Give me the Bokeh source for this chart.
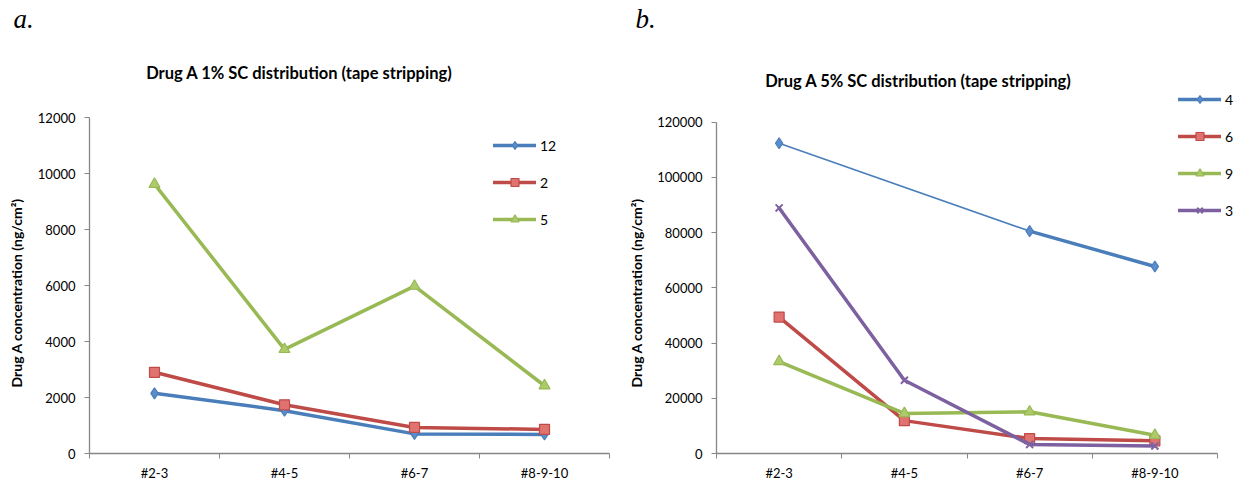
import numpy as np
from bokeh.plotting import figure
from bokeh.models import (FixedTicker, Legend, LegendItem, Label, Range1d, Title,
                          ColumnDataSource, NumeralTickFormatter)
from bokeh.layouts import row
from bokeh.embed import file_html
from bokeh.resources import INLINE

# ---------------- data ----------------
categories = ["#2-3", "#4-5", "#6-7", "#8-9-10"]

a_title = "Drug A 1% SC distribution (tape stripping)"
a_names = ["12", "2", "5"]
a_12 = [2150, 1530, 700, 680]
a_2 = [2900, 1740, 930, 860]
a_5 = [9620, 3720, 5980, 2420]
a_yticks = [0, 2000, 4000, 6000, 8000, 10000, 12000]

b_title = "Drug A 5% SC distribution (tape stripping)"
b_names = ["4", "6", "9", "3"]
b_4 = [112300, None, 80500, 67700]
b_6 = [49400, 11900, 5400, 4600]
b_9 = [33300, 14500, 15100, 6600]
b_3 = [88900, 26500, 3300, 2700]
b_yticks = [0, 20000, 40000, 60000, 80000, 100000, 120000]

y_label = "Drug A concentration (ng/cm\u00b2)"

# ---------------- styles / layout ----------------
FONT = "Lato"
AXIS_GRAY = "#868686"
STY = {
    "blue": dict(line="#4A7EBB", marker="diamond", size=11, fill="#5B8DCB", mline="#4A7EBB"),
    "red": dict(line="#BE4B48", marker="square", size=10, fill="#E0736F", mline="#BE4B48"),
    "green": dict(line="#98B954", marker="triangle", size=11, fill="#AECB6C", mline="#98B954"),
    "purple": dict(line="#7D60A0", marker="x", size=10, fill="#8064A2", mline="#8064A2"),
}
FIG_H = 486
BORDER_T = 33
BORDER_B = 33
FRAME_H = FIG_H - BORDER_T - BORDER_B


def make_fig(width, bl, br, ytop, ytop_px, yticks, letter, letter_off, ylab_off, x_extra=0.0):
    y_end = ytop * FRAME_H / ytop_px
    n = len(categories)
    p = figure(width=width, height=FIG_H, x_range=Range1d(0, n + x_extra),
               y_range=Range1d(0, y_end), output_backend="svg", toolbar_location=None,
               min_border_left=bl, min_border_right=br, min_border_top=BORDER_T,
               min_border_bottom=BORDER_B)
    p.outline_line_color = None
    p.grid.visible = False

    centers = [i + 0.5 for i in range(n)]
    xa = p.xaxis[0]
    xa.bounds = (0, n)
    xa.ticker = FixedTicker(ticks=centers, minor_ticks=list(range(n + 1)))
    xa.major_label_overrides = {c: lab for c, lab in zip(centers, categories)}
    xa.major_tick_out = 0
    xa.major_tick_in = 0
    xa.minor_tick_out = 5
    xa.minor_tick_in = 0
    xa.minor_tick_line_color = AXIS_GRAY
    xa.axis_line_color = AXIS_GRAY
    xa.axis_line_width = 1.3
    xa.major_label_text_font = FONT
    xa.major_label_text_font_size = "13px"
    xa.major_label_text_color = "black"
    xa.major_label_standoff = 6
    xa.axis_label_standoff = 0

    ya = p.yaxis[0]
    ya.bounds = (0, ytop)
    ya.ticker = FixedTicker(ticks=yticks)
    ya.formatter = NumeralTickFormatter(format="0")
    ya.major_tick_out = 5
    ya.major_tick_in = 0
    ya.minor_tick_line_color = None
    ya.major_tick_line_color = AXIS_GRAY
    ya.axis_line_color = AXIS_GRAY
    ya.axis_line_width = 1.3
    ya.major_label_text_font = FONT
    ya.major_label_text_font_size = "13px"
    ya.major_label_text_color = "black"
    ya.major_label_standoff = 9
    ya.axis_label_standoff = 0

    # y axis title (outside the axis, in the left panel); starts ylab_off px above frame bottom
    p.add_layout(Title(text=y_label, align="left", vertical_align="top", offset=ylab_off,
                       standoff=15, text_font=FONT, text_font_style="bold",
                       text_font_size="14px", text_color="black"), "left")
    # panel letter
    p.add_layout(Title(text=letter, align="left", vertical_align="bottom", offset=letter_off,
                       standoff=0, text_font="Liberation Serif", text_font_style="italic",
                       text_font_size="27px", text_color="black",
                       text_baseline="alphabetic"), "above")
    return p, centers


def add_series(p, x, vals, sty, thin_gap=False):
    y = np.array([np.nan if v is None else v for v in vals], dtype=float)
    if thin_gap:
        mask = ~np.isnan(y)
        p.line(list(np.array(x)[mask]), list(y[mask]), line_color=sty["line"],
               line_width=1.6, line_join="round")
    src = ColumnDataSource(dict(x=x, y=y))
    l = p.line("x", "y", source=src, line_color=sty["line"], line_width=3.5,
               line_join="round", line_cap="round")
    if sty["marker"] == "x":
        m = p.scatter("x", "y", source=src, marker="x", size=sty["size"],
                      line_color=sty["mline"], line_width=2)
    else:
        m = p.scatter("x", "y", source=src, marker=sty["marker"], size=sty["size"],
                      fill_color=sty["fill"], line_color=sty["mline"], line_width=1.2)
    return [l, m]


def add_legend(p, items, vx, vy):
    lg = Legend(items=items, location=(vx, vy), glyph_width=43, glyph_height=20,
                label_height=20, spacing=17, padding=0, margin=0, label_standoff=4,
                border_line_color=None, background_fill_alpha=0,
                label_text_font=FONT, label_text_font_size="14px",
                label_text_color="black")
    p.add_layout(lg)


def add_title(p, text, x, y):
    p.add_layout(Label(x=x, y=y, x_units="screen", y_units="screen", text=text,
                       text_font=FONT, text_font_style="bold", text_font_size="16.5px",
                       text_align="center", text_baseline="middle", text_color="black"))


# ---------------- chart a ----------------
pa, xa_c = make_fig(614, 88, 5, 12000, 336, a_yticks, "a.", -76, 66)
items_a = []
for name, vals, key in zip(a_names, [a_12, a_2, a_5], ["blue", "red", "green"]):
    items_a.append(LegendItem(label=name, renderers=add_series(pa, xa_c, vals, STY[key])))
add_legend(pa, items_a, 404, 224)
add_title(pa, a_title, 210, 381)

# ---------------- chart b ----------------
pb, xb_c = make_fig(620, 102, 0, 120000, 331.5, b_yticks, "b.", -81, 66,
                    x_extra=17 / 125.25)
items_b = []
for name, vals, key in zip(b_names, [b_4, b_6, b_9, b_3], ["blue", "red", "green", "purple"]):
    items_b.append(LegendItem(label=name,
                              renderers=add_series(pb, xb_c, vals, STY[key], thin_gap=(name == "4"))))
add_legend(pb, items_b, 462, 233)
add_title(pb, b_title, 202, 373)

layout = row(pa, pb)
open("out.html", "w").write(file_html(layout, INLINE))
